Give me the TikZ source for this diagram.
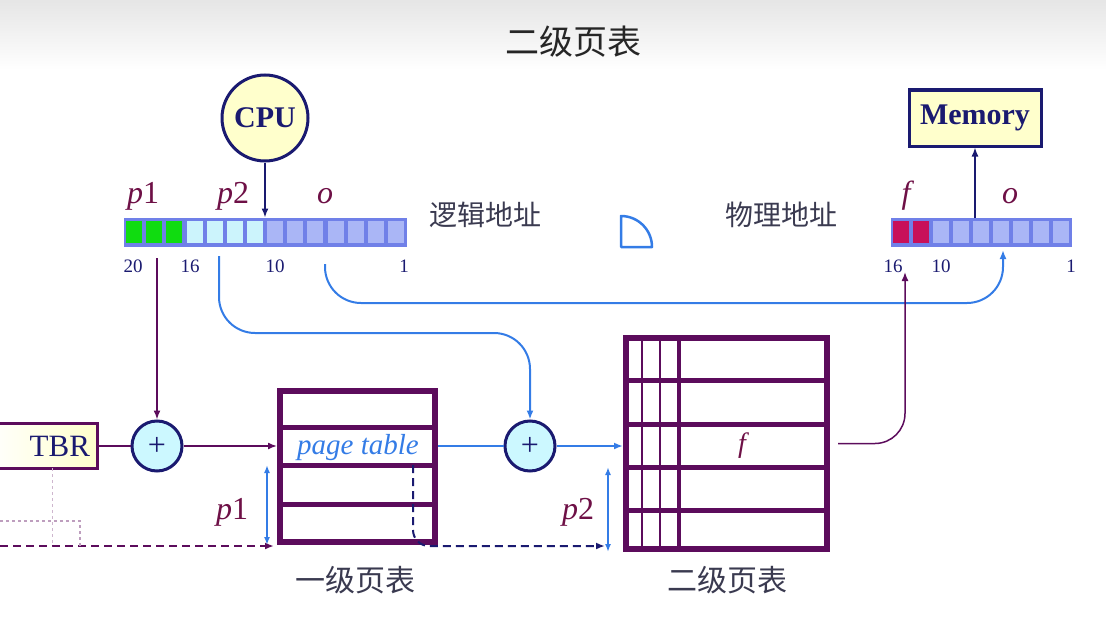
\documentclass[tikz,border=0pt]{standalone}
\usepackage{fontspec}
\setmainfont{Liberation Serif}
\newfontfamily\cjk{Noto Sans CJK SC}
\usepackage{xcolor}
\usepackage{tikz}
\usetikzlibrary{positioning,calc,arrows.meta}

\definecolor{tabpurple}{RGB}{92,12,92}
\definecolor{navy}{RGB}{26,26,112}
\definecolor{linkblue}{RGB}{52,124,230}
\definecolor{labred}{RGB}{110,16,70}
\definecolor{barblue}{RGB}{112,128,232}
\definecolor{cellblue}{RGB}{170,182,246}
\definecolor{cellcyan}{RGB}{204,244,252}
\definecolor{cellgreen}{RGB}{16,220,16}
\definecolor{cellred}{RGB}{200,16,90}
\definecolor{boxyellow}{RGB}{255,255,204}
\definecolor{pluscyan}{RGB}{204,248,255}
\definecolor{cjkgray}{RGB}{58,58,80}

\newcommand{\sz}[1]{\fontsize{#1}{#1}\selectfont}

\tikzset{
    tab/.style={draw=tabpurple, line width=6pt},
    row/.style={tabpurple, line width=5pt},
    adder/.style={circle, draw=navy, line width=3pt, fill=pluscyan, minimum size=50pt, inner sep=0pt, font=\sz{32}, text=navy},
    unit/.style={draw=navy, line width=3pt, fill=boxyellow, font=\bfseries\sz{30}, text=navy},
    bits/.style={draw=barblue, fill=barblue, line width=1pt, inner sep=0pt},
    fld/.style={font=\sz{32}, text=labred},
    num/.style={font=\sz{19}, text=navy},
    cjklab/.style={font=\cjk\sz{28}, text=cjkgray},
    tip/.style={-{Latex[length=9pt,width=7pt]}},
    plink/.style={tabpurple, line width=1.5pt},
    blink/.style={linkblue, line width=2pt},
}

\begin{document}
\begin{tikzpicture}[x=1pt,y=1pt]
    \useasboundingbox (0,0) rectangle (1106,-634);
    \clip (0,0) rectangle (1106,-634);
    \shade[top color=black!10, bottom color=white] (0,0) rectangle (1106,-70);

    \node[font=\cjk\sz{34}, text=black!85] (title) at (573,-42) {二级页表};

    % logical address
    \node[unit, circle, minimum size=86pt, inner sep=0pt] (cpu) at (265,-118) {CPU};
    \node[bits, minimum width=282pt, minimum height=28pt] (laddr) at (265,-232) {};
    \foreach \col [count=\i from 0] in {cellgreen,cellgreen,cellgreen,cellcyan,cellcyan,cellcyan,cellcyan,cellblue,cellblue,cellblue,cellblue,cellblue,cellblue,cellblue}
        \fill[\col] (126.1+20.14*\i,-243) rectangle ++(16,22);
    \foreach \x/\t [count=\i] in {143/\textit{p}1, 233/\textit{p}2, 325/\textit{o}}
        \node[fld] (lf\i) at (\x,-196) {\t};
    \foreach \x/\t [count=\i] in {133/20, 190/16, 275/10, 404/1}
        \node[num] (ln\i) at (\x,-266) {\t};
    \draw[navy, line width=1.5pt, tip] (cpu) -- (cpu |- laddr.north);
    \node[cjklab] (lname) at (485,-215) {逻辑地址};

    \draw[linkblue, line width=2.5pt, line join=round] (621,-217) -- (621,-247) -- (652,-247) arc[start angle=0, end angle=90, radius=31] -- cycle;

    % physical address
    \node[bits, minimum width=180pt, minimum height=28pt] (paddr) at (981,-232) {};
    \foreach \col [count=\i from 0] in {cellred,cellred,cellblue,cellblue,cellblue,cellblue,cellblue,cellblue,cellblue}
        \fill[\col] (893+20*\i,-243) rectangle ++(16,22);
    \foreach \x/\t [count=\i] in {908/\textit{f}, 1010/\textit{o}}
        \node[fld] (pf\i) at (\x,-196) {\t};
    \foreach \x/\t [count=\i] in {893/16, 941/10, 1071/1}
        \node[num] (pn\i) at (\x,-266) {\t};
    \node[cjklab] (pname) at (781,-215) {物理地址};
    \node[unit, minimum width=132pt, minimum height=56pt, font=\bfseries\sz{30}] (mem) at (975,-118) {Memory};
    \draw[navy, line width=1.5pt, tip] (paddr.north -| mem) -- (mem.south);

    % base register and adders
    \node[draw=tabpurple, line width=3pt, left color=white, right color=boxyellow, minimum width=110pt, minimum height=45pt, text width=96pt, align=right, inner sep=4pt, font=\sz{31}, text=navy] (tbr) at (42,-446) {TBR};
    \node[adder] (add1) at (157,-446) {+};
    \node[adder] (add2) at (530,-446) {+};

    % first level table
    \node[tab, minimum width=155pt, minimum height=151pt] (pt1) at (357.5,-466.5) {};
    \foreach \y in {427,465,504}
        \draw[row] (280,-\y) -- (435,-\y);
    \node[font=\itshape\sz{29}, text=linkblue] (ptname) at (358,-448) {page table};
    \node[cjklab, font=\cjk\sz{30}] (pt1name) at (355,-580) {一级页表};

    % second level table
    \node[tab, minimum width=201pt, minimum height=211pt] (pt2) at (726.5,-443.5) {};
    \foreach \y in {380,424,467,510}
        \draw[row] (626,-\y) -- (827,-\y);
    \foreach \x in {642,660}
        \draw[tabpurple, line width=1.5pt] (\x,-338) -- (\x,-549);
    \draw[tabpurple, line width=4pt] (679,-338) -- (679,-549);
    \node[fld, font=\itshape\sz{28}] (fval) at (742,-446) {f};
    \node[cjklab, font=\cjk\sz{30}] (pt2name) at (727,-580) {二级页表};

    % connectors
    \coordinate (p1tap) at (157,-258);
    \coordinate (p2tap) at (219,-256);
    \coordinate (otap) at (325,-264);
    \coordinate (oin) at (1003,-250);
    \coordinate (fin) at (905,-272);
    \coordinate (dstart) at (413,-465);
    \coordinate (p2base) at (605,-546);
    \coordinate (lend) at (0,-546);

    \draw[plink] (tbr) -- (add1);
    \draw[plink, tip] (add1) -- (add1 -| pt1.west);
    \draw[plink, tip] (p1tap) -- (add1);
    \draw[blink] (pt1.east |- add2) -- (add2);
    \draw[blink, tip] (add2) -- (add2 -| pt2.west);
    \draw[blink, tip, rounded corners=36pt] (p2tap) -- (219,-333) -- (530,-333) -- (add2);
    \draw[blink, tip, rounded corners=36pt] (otap) -- (325,-303) -- (1003,-303) -- (oin);
    \draw[plink, tip, rounded corners=30pt] (pt2.east) ++(8,0) -| (fin);
    \draw[navy, line width=2pt, dash pattern=on 8pt off 5pt, tip, rounded corners=16pt] (dstart) |- (p2base);
    \draw[tabpurple, line width=2pt, dash pattern=on 8pt off 5pt, tip, shorten >=3pt] (lend) -- (pt1.west |- lend);
    \draw[tabpurple!40, line width=1.5pt, dashed] (0,-521) -- (80,-521) -- (80,-546);
    \draw[tabpurple!30, line width=1pt, dashed] (52,-468) -- (52,-546);

    % index ranges
    \draw[blink, {Latex[length=8pt,width=6pt]}-{Latex[length=8pt,width=6pt]}] (267,-465) -- (267,-545);
    \draw[blink, {Latex[length=8pt,width=6pt]}-{Latex[length=8pt,width=6pt]}] (608,-467) -- (608,-552);
    \node[fld] (p1lab) at (232,-512) {\textit{p}1};
    \node[fld] (p2lab) at (578,-512) {\textit{p}2};
\end{tikzpicture}
\end{document}
